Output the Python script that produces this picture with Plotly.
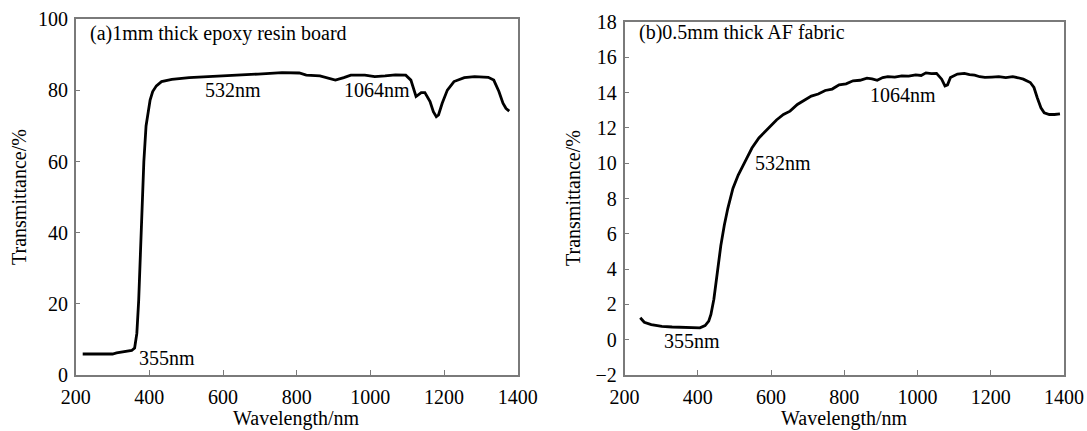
import plotly.graph_objects as go

# ---- data: panel (a) 1mm thick epoxy resin board ----
wl_a = [219, 250, 300, 311, 330, 352, 360, 366, 371, 375.6, 380, 385, 391, 398, 402, 409, 419, 433,
        461, 508, 555, 602, 650, 695, 760, 807, 826, 863, 891, 905, 928, 947, 985, 1012, 1040,
        1068, 1096, 1110, 1124, 1138, 1148, 1162, 1171, 1179, 1185, 1195, 1209, 1227, 1255,
        1283, 1320, 1335, 1349, 1360, 1368, 1377]
tr_a = [5.9, 5.9, 5.9, 6.2, 6.6, 6.9, 7.6, 11.7, 21, 35, 49, 60, 70, 75.4, 77.3, 79.7, 81.3, 82.5,
        83.1, 83.6, 83.9, 84.3, 84.4, 84.6, 85.0, 84.9, 84.3, 84.1, 83.4, 82.9, 83.6, 84.3, 84.3, 83.9, 84.1,
        84.4, 84.3, 82.9, 78.3, 79.4, 79.4, 76.9, 74.0, 72.6, 73.1, 76.4, 80.1, 82.5, 83.6,
        83.9, 83.7, 82.9, 79.7, 76.4, 75.0, 74.2]

# ---- data: panel (b) 0.5mm thick AF fabric ----
wl_b = [243, 254, 273, 302, 330, 368, 406, 420, 430, 436, 444, 453.5, 463, 472.5, 482, 496, 510.5,
        529.5, 548, 567, 582, 596, 615, 634, 652, 672, 690, 710, 729, 748, 767, 786, 805, 824,
        843, 862, 876, 890, 905, 919, 938, 957, 976, 995, 1010, 1023, 1038, 1052, 1066, 1075,
        1082, 1090, 1109, 1128, 1142, 1156, 1170, 1184, 1203, 1222, 1241, 1260, 1275, 1289,
        1308, 1318, 1327, 1337, 1346, 1360, 1374, 1389]
tr_b = [1.24, 0.99, 0.86, 0.76, 0.72, 0.68, 0.67, 0.8, 1.05, 1.43, 2.29, 3.81, 5.33, 6.48, 7.43, 8.57, 9.33,
        10.1, 10.86, 11.43, 11.75, 12.1, 12.45, 12.76, 12.95, 13.33, 13.55, 13.8, 13.92, 14.12, 14.2, 14.44, 14.5, 14.67,
        14.7, 14.82, 14.78, 14.7, 14.85, 14.9, 14.88, 14.95, 14.93, 15.0, 14.97, 15.12, 15.08, 15.09, 14.76, 14.38,
        14.44, 14.86, 15.05, 15.09, 15.02, 14.99, 14.9, 14.86, 14.88, 14.9, 14.85, 14.9, 14.84, 14.76,
        14.57, 14.29, 13.71, 13.14, 12.86, 12.76, 12.76, 12.8]

x_ticks = [200, 400, 600, 800, 1000, 1200, 1400]
y_ticks_a = [0, 20, 40, 60, 80, 100]
y_ticks_b = [-2, 0, 2, 4, 6, 8, 10, 12, 14, 16, 18]
y_ticktext_b = ["\u22122"] + [str(v) for v in y_ticks_b[1:]]

FONT = "Liberation Serif, Times New Roman, Times, serif"
FS = 20
AXC = "#7a7a7a"

fig = go.Figure()
fig.add_trace(go.Scatter(x=wl_a, y=tr_a, mode="lines", line=dict(color="black", width=2.8),
                         xaxis="x", yaxis="y", showlegend=False))
fig.add_trace(go.Scatter(x=wl_b, y=tr_b, mode="lines", line=dict(color="black", width=2.8),
                         xaxis="x2", yaxis="y2", showlegend=False))

W, H = 1087, 431
def ax(**kw):
    base = dict(showline=True, mirror=True, linecolor=AXC, linewidth=1.5,
                ticks="inside", ticklen=5, tickcolor=AXC, tickwidth=1.2,
                showgrid=False, zeroline=False, automargin=False,
                tickfont=dict(family=FONT, size=FS, color="black"))
    base.update(kw)
    return base

fig.update_layout(
    template="none",
    width=W, height=H, margin=dict(l=0, r=0, t=0, b=0, pad=0),
    paper_bgcolor="white", plot_bgcolor="white",
    xaxis=ax(domain=[75.7 / W, 517.7 / W], range=[200, 1400], tickvals=x_ticks, anchor="y",
             ticklabelstandoff=3),
    yaxis=ax(domain=[1 - 375 / H, 1 - 19.3 / H], range=[0, 100], tickvals=y_ticks_a, anchor="x",
             ticklabelstandoff=2),
    xaxis2=ax(domain=[624.5 / W, 1064 / W], range=[200, 1400], tickvals=x_ticks, anchor="y2",
              ticklabelstandoff=3),
    yaxis2=ax(domain=[1 - 375 / H, 1 - 22 / H], range=[-2, 18], tickvals=y_ticks_b,
              ticktext=y_ticktext_b, anchor="x2", ticklabelstandoff=2),
)

tf = dict(family=FONT, size=FS, color="black")
annots = [
    dict(x=233, y=96.1, xref="x", yref="y", text="(a)1mm thick epoxy resin board"),
    dict(x=545, y=80.2, xref="x", yref="y", text="532nm"),
    dict(x=924, y=80.0, xref="x", yref="y", text="1064nm"),
    dict(x=366, y=4.7, xref="x", yref="y", text="355nm"),
    dict(x=235, y=17.43, xref="x2", yref="y2", text="(b)0.5mm thick AF fabric"),
    dict(x=866, y=13.87, xref="x2", yref="y2", text="1064nm"),
    dict(x=550, y=10.0, xref="x2", yref="y2", text="532nm"),
    dict(x=303, y=-0.1, xref="x2", yref="y2", text="355nm"),
]
for a in annots:
    fig.add_annotation(**a, xanchor="left", yanchor="middle", showarrow=False, font=tf)

# axis titles
fig.add_annotation(x=(75.7 + 517.7) / 2 / W, y=1 - 418 / H, xref="paper", yref="paper",
                   text="Wavelength/nm", showarrow=False, font=tf, xanchor="center", yanchor="middle")
fig.add_annotation(x=(624.5 + 1064) / 2 / W, y=1 - 418 / H, xref="paper", yref="paper",
                   text="Wavelength/nm", showarrow=False, font=tf, xanchor="center", yanchor="middle")
fig.add_annotation(x=19 / W, y=1 - 197 / H, xref="paper", yref="paper", textangle=-90,
                   text="Transmittance/%", showarrow=False, font=tf, xanchor="center", yanchor="middle")
fig.add_annotation(x=573 / W, y=1 - 198 / H, xref="paper", yref="paper", textangle=-90,
                   text="Transmittance/%", showarrow=False, font=tf, xanchor="center", yanchor="middle")

fig.write_html("out.html", config={"displayModeBar": False},
               post_script="document.body.style.margin='0';document.body.style.padding='0';")
